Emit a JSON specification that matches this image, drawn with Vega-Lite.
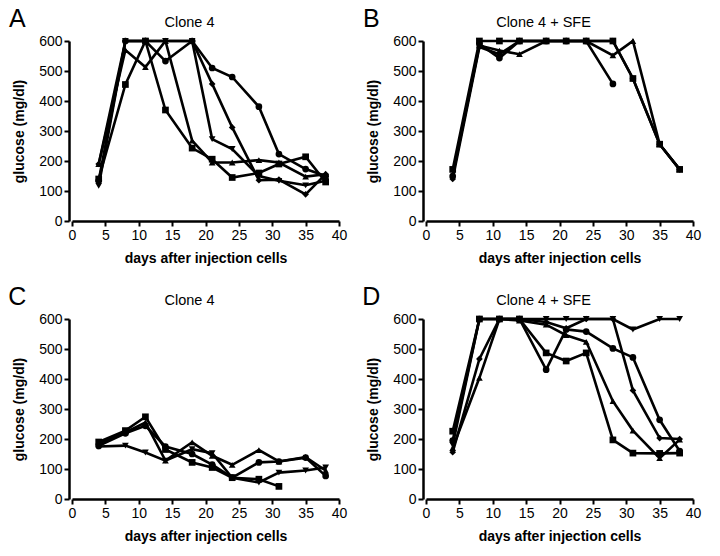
{
  "$schema": "https://vega.github.io/schema/vega-lite/v6.json",
  "background": "white",
  "padding": {"left": 8, "top": 7, "right": 5, "bottom": 5},
  "datasets": {
    "glc": [
      {"panel":"A","series":"circle","day":4,"glucose":135},
      {"panel":"A","series":"circle","day":8,"glucose":600},
      {"panel":"A","series":"circle","day":11,"glucose":600},
      {"panel":"A","series":"circle","day":14,"glucose":533},
      {"panel":"A","series":"circle","day":18,"glucose":600},
      {"panel":"A","series":"circle","day":21,"glucose":510},
      {"panel":"A","series":"circle","day":24,"glucose":480},
      {"panel":"A","series":"circle","day":28,"glucose":381},
      {"panel":"A","series":"circle","day":31,"glucose":223},
      {"panel":"A","series":"circle","day":35,"glucose":173},
      {"panel":"A","series":"circle","day":38,"glucose":150},
      {"panel":"A","series":"square","day":4,"glucose":140},
      {"panel":"A","series":"square","day":8,"glucose":455},
      {"panel":"A","series":"square","day":11,"glucose":600},
      {"panel":"A","series":"square","day":14,"glucose":370},
      {"panel":"A","series":"square","day":18,"glucose":243},
      {"panel":"A","series":"square","day":21,"glucose":206},
      {"panel":"A","series":"square","day":24,"glucose":145},
      {"panel":"A","series":"square","day":28,"glucose":160},
      {"panel":"A","series":"square","day":31,"glucose":190},
      {"panel":"A","series":"square","day":35,"glucose":214},
      {"panel":"A","series":"square","day":38,"glucose":130},
      {"panel":"A","series":"triangle-up","day":4,"glucose":190},
      {"panel":"A","series":"triangle-up","day":8,"glucose":570},
      {"panel":"A","series":"triangle-up","day":11,"glucose":513},
      {"panel":"A","series":"triangle-up","day":14,"glucose":600},
      {"panel":"A","series":"triangle-up","day":18,"glucose":268},
      {"panel":"A","series":"triangle-up","day":21,"glucose":195},
      {"panel":"A","series":"triangle-up","day":24,"glucose":195},
      {"panel":"A","series":"triangle-up","day":28,"glucose":203},
      {"panel":"A","series":"triangle-up","day":31,"glucose":195},
      {"panel":"A","series":"triangle-up","day":35,"glucose":148},
      {"panel":"A","series":"triangle-up","day":38,"glucose":156},
      {"panel":"A","series":"triangle-down","day":4,"glucose":117},
      {"panel":"A","series":"triangle-down","day":8,"glucose":600},
      {"panel":"A","series":"triangle-down","day":11,"glucose":600},
      {"panel":"A","series":"triangle-down","day":14,"glucose":600},
      {"panel":"A","series":"triangle-down","day":18,"glucose":600},
      {"panel":"A","series":"triangle-down","day":21,"glucose":273},
      {"panel":"A","series":"triangle-down","day":24,"glucose":240},
      {"panel":"A","series":"triangle-down","day":28,"glucose":150},
      {"panel":"A","series":"triangle-down","day":31,"glucose":134},
      {"panel":"A","series":"triangle-down","day":35,"glucose":119},
      {"panel":"A","series":"triangle-down","day":38,"glucose":134},
      {"panel":"A","series":"diamond","day":4,"glucose":190},
      {"panel":"A","series":"diamond","day":8,"glucose":600},
      {"panel":"A","series":"diamond","day":11,"glucose":600},
      {"panel":"A","series":"diamond","day":14,"glucose":600},
      {"panel":"A","series":"diamond","day":18,"glucose":600},
      {"panel":"A","series":"diamond","day":21,"glucose":457},
      {"panel":"A","series":"diamond","day":24,"glucose":312},
      {"panel":"A","series":"diamond","day":28,"glucose":136},
      {"panel":"A","series":"diamond","day":31,"glucose":138},
      {"panel":"A","series":"diamond","day":35,"glucose":89},
      {"panel":"A","series":"diamond","day":38,"glucose":156},

      {"panel":"B","series":"circle","day":4,"glucose":150},
      {"panel":"B","series":"circle","day":8,"glucose":590},
      {"panel":"B","series":"circle","day":11,"glucose":543},
      {"panel":"B","series":"circle","day":14,"glucose":600},
      {"panel":"B","series":"circle","day":18,"glucose":600},
      {"panel":"B","series":"circle","day":21,"glucose":600},
      {"panel":"B","series":"circle","day":24,"glucose":600},
      {"panel":"B","series":"circle","day":28,"glucose":457},
      {"panel":"B","series":"square","day":4,"glucose":172},
      {"panel":"B","series":"square","day":8,"glucose":600},
      {"panel":"B","series":"square","day":11,"glucose":600},
      {"panel":"B","series":"square","day":14,"glucose":600},
      {"panel":"B","series":"square","day":18,"glucose":600},
      {"panel":"B","series":"square","day":21,"glucose":600},
      {"panel":"B","series":"square","day":24,"glucose":600},
      {"panel":"B","series":"square","day":28,"glucose":600},
      {"panel":"B","series":"square","day":31,"glucose":475},
      {"panel":"B","series":"square","day":35,"glucose":256},
      {"panel":"B","series":"square","day":38,"glucose":172},
      {"panel":"B","series":"triangle-up","day":4,"glucose":155},
      {"panel":"B","series":"triangle-up","day":8,"glucose":585},
      {"panel":"B","series":"triangle-up","day":11,"glucose":568},
      {"panel":"B","series":"triangle-up","day":14,"glucose":556},
      {"panel":"B","series":"triangle-up","day":18,"glucose":600},
      {"panel":"B","series":"triangle-up","day":21,"glucose":600},
      {"panel":"B","series":"triangle-up","day":24,"glucose":600},
      {"panel":"B","series":"triangle-up","day":28,"glucose":552},
      {"panel":"B","series":"triangle-up","day":31,"glucose":600},
      {"panel":"B","series":"triangle-up","day":35,"glucose":256},
      {"panel":"B","series":"triangle-up","day":38,"glucose":172},
      {"panel":"B","series":"diamond","day":4,"glucose":140},
      {"panel":"B","series":"diamond","day":8,"glucose":580},
      {"panel":"B","series":"diamond","day":11,"glucose":556},
      {"panel":"B","series":"diamond","day":14,"glucose":600},
      {"panel":"B","series":"diamond","day":18,"glucose":600},
      {"panel":"B","series":"diamond","day":21,"glucose":600},
      {"panel":"B","series":"diamond","day":24,"glucose":600},
      {"panel":"B","series":"diamond","day":28,"glucose":600},
      {"panel":"B","series":"diamond","day":31,"glucose":475},
      {"panel":"B","series":"diamond","day":35,"glucose":256},
      {"panel":"B","series":"diamond","day":38,"glucose":172},

      {"panel":"C","series":"square","day":4,"glucose":190},
      {"panel":"C","series":"square","day":8,"glucose":228},
      {"panel":"C","series":"square","day":11,"glucose":274},
      {"panel":"C","series":"square","day":14,"glucose":165},
      {"panel":"C","series":"square","day":18,"glucose":122},
      {"panel":"C","series":"square","day":21,"glucose":105},
      {"panel":"C","series":"square","day":24,"glucose":71},
      {"panel":"C","series":"square","day":28,"glucose":66},
      {"panel":"C","series":"square","day":31,"glucose":42},
      {"panel":"C","series":"circle","day":4,"glucose":177},
      {"panel":"C","series":"circle","day":8,"glucose":219},
      {"panel":"C","series":"circle","day":11,"glucose":244},
      {"panel":"C","series":"circle","day":14,"glucose":175},
      {"panel":"C","series":"circle","day":18,"glucose":150},
      {"panel":"C","series":"circle","day":21,"glucose":115},
      {"panel":"C","series":"circle","day":24,"glucose":71},
      {"panel":"C","series":"circle","day":28,"glucose":122},
      {"panel":"C","series":"circle","day":31,"glucose":125},
      {"panel":"C","series":"circle","day":35,"glucose":138},
      {"panel":"C","series":"circle","day":38,"glucose":77},
      {"panel":"C","series":"triangle-up","day":4,"glucose":185},
      {"panel":"C","series":"triangle-up","day":8,"glucose":222},
      {"panel":"C","series":"triangle-up","day":11,"glucose":255},
      {"panel":"C","series":"triangle-up","day":14,"glucose":128},
      {"panel":"C","series":"triangle-up","day":18,"glucose":189},
      {"panel":"C","series":"triangle-up","day":21,"glucose":144},
      {"panel":"C","series":"triangle-up","day":24,"glucose":114},
      {"panel":"C","series":"triangle-up","day":28,"glucose":163},
      {"panel":"C","series":"triangle-up","day":31,"glucose":125},
      {"panel":"C","series":"triangle-up","day":35,"glucose":140},
      {"panel":"C","series":"triangle-up","day":38,"glucose":95},
      {"panel":"C","series":"triangle-down","day":4,"glucose":175},
      {"panel":"C","series":"triangle-down","day":8,"glucose":178},
      {"panel":"C","series":"triangle-down","day":11,"glucose":155},
      {"panel":"C","series":"triangle-down","day":14,"glucose":128},
      {"panel":"C","series":"triangle-down","day":18,"glucose":166},
      {"panel":"C","series":"triangle-down","day":21,"glucose":153},
      {"panel":"C","series":"triangle-down","day":24,"glucose":71},
      {"panel":"C","series":"triangle-down","day":28,"glucose":55},
      {"panel":"C","series":"triangle-down","day":31,"glucose":88},
      {"panel":"C","series":"triangle-down","day":35,"glucose":95},
      {"panel":"C","series":"triangle-down","day":38,"glucose":105},

      {"panel":"D","series":"circle","day":4,"glucose":195},
      {"panel":"D","series":"circle","day":8,"glucose":600},
      {"panel":"D","series":"circle","day":11,"glucose":600},
      {"panel":"D","series":"circle","day":14,"glucose":600},
      {"panel":"D","series":"circle","day":18,"glucose":431},
      {"panel":"D","series":"circle","day":21,"glucose":565},
      {"panel":"D","series":"circle","day":24,"glucose":558},
      {"panel":"D","series":"circle","day":28,"glucose":502},
      {"panel":"D","series":"circle","day":31,"glucose":472},
      {"panel":"D","series":"circle","day":35,"glucose":264},
      {"panel":"D","series":"circle","day":38,"glucose":160},
      {"panel":"D","series":"square","day":4,"glucose":226},
      {"panel":"D","series":"square","day":8,"glucose":600},
      {"panel":"D","series":"square","day":11,"glucose":600},
      {"panel":"D","series":"square","day":14,"glucose":600},
      {"panel":"D","series":"square","day":18,"glucose":487},
      {"panel":"D","series":"square","day":21,"glucose":460},
      {"panel":"D","series":"square","day":24,"glucose":487},
      {"panel":"D","series":"square","day":28,"glucose":197},
      {"panel":"D","series":"square","day":31,"glucose":153},
      {"panel":"D","series":"square","day":35,"glucose":152},
      {"panel":"D","series":"square","day":38,"glucose":153},
      {"panel":"D","series":"triangle-up","day":4,"glucose":170},
      {"panel":"D","series":"triangle-up","day":8,"glucose":404},
      {"panel":"D","series":"triangle-up","day":11,"glucose":600},
      {"panel":"D","series":"triangle-up","day":14,"glucose":595},
      {"panel":"D","series":"triangle-up","day":18,"glucose":581},
      {"panel":"D","series":"triangle-up","day":21,"glucose":546},
      {"panel":"D","series":"triangle-up","day":24,"glucose":524},
      {"panel":"D","series":"triangle-up","day":28,"glucose":326},
      {"panel":"D","series":"triangle-up","day":31,"glucose":228},
      {"panel":"D","series":"triangle-up","day":35,"glucose":136},
      {"panel":"D","series":"triangle-up","day":38,"glucose":198},
      {"panel":"D","series":"triangle-down","day":4,"glucose":180},
      {"panel":"D","series":"triangle-down","day":8,"glucose":600},
      {"panel":"D","series":"triangle-down","day":11,"glucose":600},
      {"panel":"D","series":"triangle-down","day":14,"glucose":600},
      {"panel":"D","series":"triangle-down","day":18,"glucose":600},
      {"panel":"D","series":"triangle-down","day":21,"glucose":600},
      {"panel":"D","series":"triangle-down","day":24,"glucose":600},
      {"panel":"D","series":"triangle-down","day":28,"glucose":600},
      {"panel":"D","series":"triangle-down","day":31,"glucose":565},
      {"panel":"D","series":"triangle-down","day":35,"glucose":600},
      {"panel":"D","series":"triangle-down","day":38,"glucose":600},
      {"panel":"D","series":"diamond","day":4,"glucose":156},
      {"panel":"D","series":"diamond","day":8,"glucose":467},
      {"panel":"D","series":"diamond","day":11,"glucose":600},
      {"panel":"D","series":"diamond","day":14,"glucose":600},
      {"panel":"D","series":"diamond","day":18,"glucose":590},
      {"panel":"D","series":"diamond","day":21,"glucose":569},
      {"panel":"D","series":"diamond","day":24,"glucose":600},
      {"panel":"D","series":"diamond","day":28,"glucose":600},
      {"panel":"D","series":"diamond","day":31,"glucose":362},
      {"panel":"D","series":"diamond","day":35,"glucose":203},
      {"panel":"D","series":"diamond","day":38,"glucose":200}
    ]
  },
  "columns": 2,
  "spacing": {"column": 15, "row": 20},
  "concat": [
    {
      "width": 267, "height": 180,
      "title": "Clone 4",
      "encoding": {
        "x": {"field": "day", "type": "quantitative", "scale": {"domain": [0, 40], "nice": false}, "axis": {"title": "days after injection cells", "values": [0,5,10,15,20,25,30,35,40], "labelOverlap": false, "labelFlush": false}},
        "y": {"field": "glucose", "type": "quantitative", "scale": {"domain": [0, 600], "nice": false}, "axis": {"title": "glucose (mg/dl)", "values": [0,100,200,300,400,500,600], "labelOverlap": false, "offset": 3}}
      },
      "layer": [
        {"data": {"name": "glc"}, "transform": [{"filter": "datum.panel === 'A'"}],
         "mark": {"type": "line", "color": "black", "strokeWidth": 2.6},
         "encoding": {"detail": {"field": "series"}}},
        {"data": {"name": "glc"}, "transform": [{"filter": "datum.panel === 'A'"}],
         "mark": {"type": "point", "filled": true, "color": "black", "opacity": 1, "size": 45},
         "encoding": {"shape": {"field": "series", "type": "nominal", "scale": {"domain": ["circle","square","triangle-up","triangle-down","diamond"], "range": ["circle","square","triangle-up","triangle-down","diamond"]}, "legend": null}}},
        {"data": {"values": [{"letter": "A", "lx": -8.2, "ly": 673}]},
         "mark": {"type": "text", "fontSize": 25, "font": "Liberation Sans", "color": "black", "align": "center", "baseline": "middle"},
         "encoding": {"x": {"field": "lx", "type": "quantitative"}, "y": {"field": "ly", "type": "quantitative"}, "text": {"field": "letter"}}}
      ]
    },
    {
      "width": 267, "height": 180,
      "title": "Clone 4 + SFE",
      "encoding": {
        "x": {"field": "day", "type": "quantitative", "scale": {"domain": [0, 40], "nice": false}, "axis": {"title": "days after injection cells", "values": [0,5,10,15,20,25,30,35,40], "labelOverlap": false, "labelFlush": false}},
        "y": {"field": "glucose", "type": "quantitative", "scale": {"domain": [0, 600], "nice": false}, "axis": {"title": "glucose (mg/dl)", "values": [0,100,200,300,400,500,600], "labelOverlap": false, "offset": 3}}
      },
      "layer": [
        {"data": {"name": "glc"}, "transform": [{"filter": "datum.panel === 'B'"}],
         "mark": {"type": "line", "color": "black", "strokeWidth": 2.6},
         "encoding": {"detail": {"field": "series"}}},
        {"data": {"name": "glc"}, "transform": [{"filter": "datum.panel === 'B'"}],
         "mark": {"type": "point", "filled": true, "color": "black", "opacity": 1, "size": 45},
         "encoding": {"shape": {"field": "series", "type": "nominal", "scale": {"domain": ["circle","square","triangle-up","triangle-down","diamond"], "range": ["circle","square","triangle-up","triangle-down","diamond"]}, "legend": null}}},
        {"data": {"values": [{"letter": "B", "lx": -8.2, "ly": 673}]},
         "mark": {"type": "text", "fontSize": 25, "font": "Liberation Sans", "color": "black", "align": "center", "baseline": "middle"},
         "encoding": {"x": {"field": "lx", "type": "quantitative"}, "y": {"field": "ly", "type": "quantitative"}, "text": {"field": "letter"}}}
      ]
    },
    {
      "width": 267, "height": 180,
      "title": "Clone 4",
      "encoding": {
        "x": {"field": "day", "type": "quantitative", "scale": {"domain": [0, 40], "nice": false}, "axis": {"title": "days after injection cells", "values": [0,5,10,15,20,25,30,35,40], "labelOverlap": false, "labelFlush": false}},
        "y": {"field": "glucose", "type": "quantitative", "scale": {"domain": [0, 600], "nice": false}, "axis": {"title": "glucose (mg/dl)", "values": [0,100,200,300,400,500,600], "labelOverlap": false, "offset": 3}}
      },
      "layer": [
        {"data": {"name": "glc"}, "transform": [{"filter": "datum.panel === 'C'"}],
         "mark": {"type": "line", "color": "black", "strokeWidth": 2.6},
         "encoding": {"detail": {"field": "series"}}},
        {"data": {"name": "glc"}, "transform": [{"filter": "datum.panel === 'C'"}],
         "mark": {"type": "point", "filled": true, "color": "black", "opacity": 1, "size": 45},
         "encoding": {"shape": {"field": "series", "type": "nominal", "scale": {"domain": ["circle","square","triangle-up","triangle-down","diamond"], "range": ["circle","square","triangle-up","triangle-down","diamond"]}, "legend": null}}},
        {"data": {"values": [{"letter": "C", "lx": -8.2, "ly": 673}]},
         "mark": {"type": "text", "fontSize": 25, "font": "Liberation Sans", "color": "black", "align": "center", "baseline": "middle"},
         "encoding": {"x": {"field": "lx", "type": "quantitative"}, "y": {"field": "ly", "type": "quantitative"}, "text": {"field": "letter"}}}
      ]
    },
    {
      "width": 267, "height": 180,
      "title": "Clone 4 + SFE",
      "encoding": {
        "x": {"field": "day", "type": "quantitative", "scale": {"domain": [0, 40], "nice": false}, "axis": {"title": "days after injection cells", "values": [0,5,10,15,20,25,30,35,40], "labelOverlap": false, "labelFlush": false}},
        "y": {"field": "glucose", "type": "quantitative", "scale": {"domain": [0, 600], "nice": false}, "axis": {"title": "glucose (mg/dl)", "values": [0,100,200,300,400,500,600], "labelOverlap": false, "offset": 3}}
      },
      "layer": [
        {"data": {"name": "glc"}, "transform": [{"filter": "datum.panel === 'D'"}],
         "mark": {"type": "line", "color": "black", "strokeWidth": 2.6},
         "encoding": {"detail": {"field": "series"}}},
        {"data": {"name": "glc"}, "transform": [{"filter": "datum.panel === 'D'"}],
         "mark": {"type": "point", "filled": true, "color": "black", "opacity": 1, "size": 45},
         "encoding": {"shape": {"field": "series", "type": "nominal", "scale": {"domain": ["circle","square","triangle-up","triangle-down","diamond"], "range": ["circle","square","triangle-up","triangle-down","diamond"]}, "legend": null}}},
        {"data": {"values": [{"letter": "D", "lx": -8.2, "ly": 673}]},
         "mark": {"type": "text", "fontSize": 25, "font": "Liberation Sans", "color": "black", "align": "center", "baseline": "middle"},
         "encoding": {"x": {"field": "lx", "type": "quantitative"}, "y": {"field": "ly", "type": "quantitative"}, "text": {"field": "letter"}}}
      ]
    }
  ],
  "config": {
    "view": {"stroke": null},
    "font": "Liberation Sans",
    "title": {"font": "Liberation Sans", "fontSize": 14.5, "fontWeight": "normal", "color": "black", "anchor": "middle", "frame": "group", "offset": -23, "dx": -16},
    "axis": {
      "grid": false, "labelOverlap": false, "labelFlush": false,
      "domainColor": "black", "domainWidth": 2.5,
      "tickColor": "black", "tickWidth": 2, "tickSize": 5,
      "labelFont": "Liberation Sans", "labelFontSize": 14, "labelColor": "black", "labelPadding": 2,
      "titleFont": "Liberation Sans", "titleFontSize": 14, "titleFontWeight": "bold", "titleColor": "black"
    },
    "axisX": {"titlePadding": 9},
    "axisY": {"titlePadding": 12}
  }
}
